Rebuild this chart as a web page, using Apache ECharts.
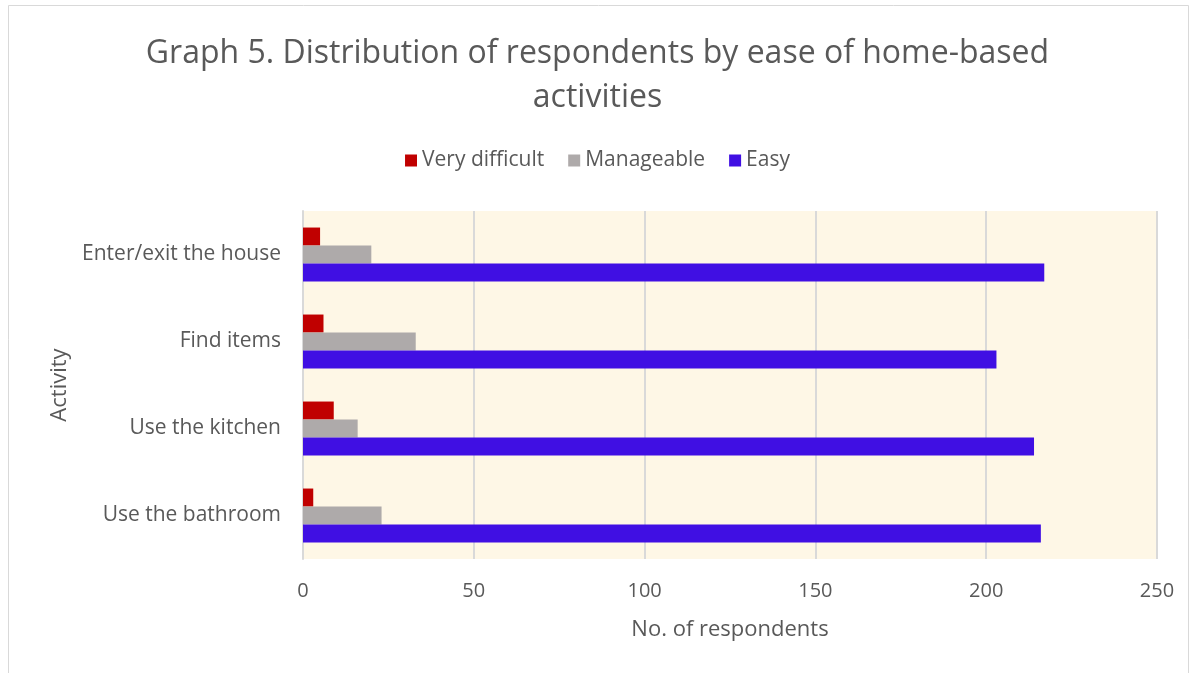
<!DOCTYPE html>
<html>
<head>
<meta charset="utf-8">
<script src="https://cdn.jsdelivr.net/npm/echarts@6/dist/echarts.min.js"></script>
<style>html,body{margin:0;padding:0;background:#fff}#c{width:1195px;height:673px}</style>
</head>
<body>
<div id="c"></div>
<script>
const categories = ["Enter/exit the house", "Find items", "Use the kitchen", "Use the bathroom"];
const veryDifficult = [5, 6, 9, 3];
const manageable = [20, 33, 16, 23];
const easy = [217, 203, 214, 216];
const xTicks = [0, 50, 100, 150, 200, 250];

const chart = echarts.init(document.getElementById('c'));
const font = '"Open Sans", sans-serif';
chart.setOption({
  animation: false,
  backgroundColor: '#fff',
  title: {
    text: 'Graph 5. Distribution of respondents by ease of home-based\nactivities',
    left: 'center', top: 27,
    textStyle: { fontFamily: font, fontSize: 32, fontWeight: 'normal', color: '#595959', lineHeight: 44 }
  },
  legend: {
    top: 145, left: 'center',
    itemWidth: 12, itemHeight: 12, itemGap: 24,
    icon: 'rect',
    textStyle: { fontFamily: font, fontSize: 21, color: '#595959' },
    data: ['Very difficult', 'Manageable', 'Easy']
  },
  grid: { left: 303, right: 38, top: 211, bottom: 114, show: true, backgroundColor: '#FEF7E6', borderWidth: 0 },
  xAxis: {
    type: 'value', min: xTicks[0], max: xTicks[xTicks.length - 1], interval: 50,
    name: 'No. of respondents', nameLocation: 'middle', nameGap: 60,
    nameTextStyle: { fontFamily: font, fontSize: 22, color: '#595959' },
    axisLine: { show: false }, axisTick: { show: false },
    axisLabel: { fontFamily: font, fontSize: 20, color: '#595959', margin: 22 },
    splitLine: { lineStyle: { color: '#D9D9D9', width: 2 } }
  },
  yAxis: {
    type: 'category', data: categories, inverse: true,
    name: 'Activity', nameLocation: 'middle', nameGap: 232, nameRotate: 90,
    nameTextStyle: { fontFamily: font, fontSize: 22, color: '#595959' },
    axisLine: { show: true, lineStyle: { color: '#D9D9D9', width: 2 } },
    axisTick: { show: false },
    axisLabel: { fontFamily: font, fontSize: 21, color: '#595959', margin: 22 }
  },
  series: [
    { name: 'Very difficult', type: 'bar', data: veryDifficult, barGap: '0%', barCategoryGap: '38%', itemStyle: { color: '#C00000' } },
    { name: 'Manageable', type: 'bar', data: manageable, itemStyle: { color: '#AEAAAA' } },
    { name: 'Easy', type: 'bar', data: easy, itemStyle: { color: '#400FE3' } }
  ],
  graphic: [{
    type: 'rect', shape: { x: 8.5, y: 5.5, width: 1180, height: 680 },
    style: { fill: 'none', stroke: '#D9D9D9', lineWidth: 1 }, silent: true
  }]
});
</script>
</body>
</html>
